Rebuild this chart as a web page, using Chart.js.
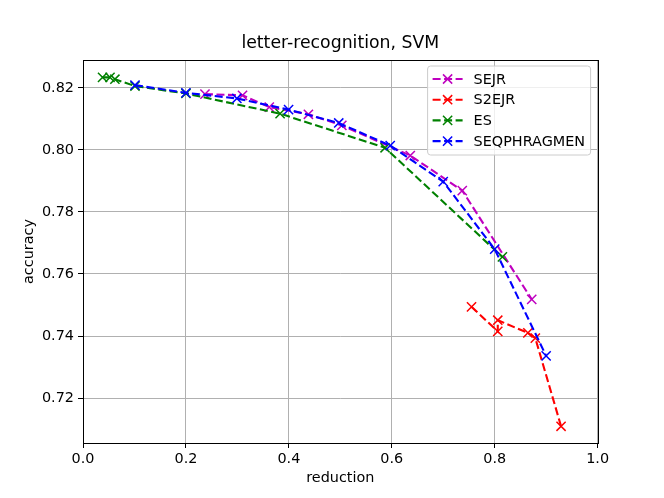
<!DOCTYPE html>
<html>
<head>
<meta charset="utf-8">
<script src="https://cdn.jsdelivr.net/npm/chart.js@4.4.0/dist/chart.umd.min.js"></script>
<style>
    html, body { margin: 0; padding: 0; background: #fff; }
</style>
</head>
<body>
<canvas id="chart" width="664" height="498"></canvas>
<script>
// letter-recognition, SVM : accuracy vs reduction

const chartTitle = "letter-recognition, SVM";
const seriesNames = ["SEJR", "S2EJR", "ES", "SEQPHRAGMEN"];
const seriesColors = ["#bf00bf", "#ff0000", "#008000", "#0000ff"];

const sejrX = [0.237, 0.31, 0.362, 0.438, 0.503, 0.636, 0.737, 0.872];
const sejrY = [0.8180, 0.8176, 0.8138, 0.8115, 0.8079, 0.7982, 0.7869, 0.7518];

const s2ejrX = [0.755, 0.806, 0.806, 0.8645, 0.879, 0.929];
const s2ejrY = [0.7494, 0.7415, 0.7451, 0.7410, 0.7393, 0.7109];

const esX = [0.038, 0.0525, 0.062, 0.101, 0.2, 0.383, 0.587, 0.815];
const esY = [0.8234, 0.8234, 0.8228, 0.8206, 0.8182, 0.8117, 0.8007, 0.7655];

const seqX = [0.101, 0.2, 0.299, 0.3995, 0.497, 0.597, 0.70, 0.80, 0.90];
const seqY = [0.8209, 0.8184, 0.8166, 0.8130, 0.8087, 0.8014, 0.7898, 0.7680, 0.7336];

const xTicks = [0.0, 0.2, 0.4, 0.6, 0.8, 1.0];
const yTicks = [0.72, 0.74, 0.76, 0.78, 0.80, 0.82];

const FONT = "'DejaVu Sans', sans-serif";
const tickFont = { family: FONT, size: 14.4 };

function toPoints(xs, ys) {
    return xs.map((x, i) => ({ x: x, y: ys[i] }));
}

function makeDataset(i, xs, ys) {
    return {
        label: seriesNames[i],
        data: toPoints(xs, ys),
        showLine: true,
        borderColor: seriesColors[i],
        backgroundColor: seriesColors[i],
        borderWidth: 2.1,
        borderDash: [8, 3.5],
        pointStyle: "crossRot",
        pointRadius: 6.5,
        pointBorderWidth: 1.5,
        pointBorderColor: seriesColors[i],
        order: 4 - i, // premier tracé = dessous
    };
}

// cadre complet + titre centré sur la zone de tracé
const framePlugin = {
    id: "frame",
    afterDatasetsDraw(chart) {
        const a = chart.chartArea;
        const ctx = chart.ctx;
        ctx.save();
        ctx.strokeStyle = "#000";
        ctx.lineWidth = 1;
        ctx.strokeRect(Math.round(a.left) + 0.5, Math.round(a.top) + 0.5,
            Math.round(a.right - a.left), Math.round(a.bottom - a.top));
        ctx.fillStyle = "#000";
        ctx.font = "17.3px " + FONT;
        ctx.textAlign = "center";
        ctx.textBaseline = "middle";
        ctx.fillText(chartTitle, (a.left + a.right) / 2, 44);
        ctx.restore();
    },
};

// légende façon matplotlib, en haut à droite
const legendPlugin = {
    id: "mplLegend",
    afterDraw(chart) {
        const ctx = chart.ctx;
        const a = chart.chartArea;
        const boxW = 163, boxH = 89;
        const bx = a.right - 7 - boxW, by = a.top + 6;
        ctx.save();
        ctx.beginPath();
        ctx.roundRect(bx, by, boxW, boxH, 3);
        ctx.fillStyle = "rgba(255,255,255,0.8)";
        ctx.fill();
        ctx.strokeStyle = "#cccccc";
        ctx.lineWidth = 1;
        ctx.stroke();
        chart.data.datasets.forEach((ds, i) => {
            const y = by + 13 + i * 20.7;
            const x0 = bx + 5, x1 = bx + 35, xm = (x0 + x1) / 2;
            ctx.strokeStyle = ds.borderColor;
            ctx.lineWidth = 2.1;
            ctx.setLineDash([8, 3.5]);
            ctx.beginPath();
            ctx.moveTo(x0, y);
            ctx.lineTo(x1, y);
            ctx.stroke();
            ctx.setLineDash([]);
            ctx.lineWidth = 1.5;
            const r = 6.5 * Math.SQRT1_2;
            ctx.beginPath();
            ctx.moveTo(xm - r, y - r);
            ctx.lineTo(xm + r, y + r);
            ctx.moveTo(xm - r, y + r);
            ctx.lineTo(xm + r, y - r);
            ctx.stroke();
            ctx.fillStyle = "#000";
            ctx.font = "14.4px " + FONT;
            ctx.textBaseline = "middle";
            ctx.fillText(ds.label, bx + 46, y + 1);
        });
        ctx.restore();
    },
};

new Chart(document.getElementById("chart").getContext("2d"), {
    type: "scatter",
    data: {
        datasets: [
            makeDataset(0, sejrX, sejrY),
            makeDataset(1, s2ejrX, s2ejrY),
            makeDataset(2, esX, esY),
            makeDataset(3, seqX, seqY),
        ],
    },
    options: {
        responsive: false,
        animation: false,
        devicePixelRatio: 1,
        layout: { padding: { top: 60, right: 66.4, bottom: 0, left: 0 } },
        plugins: {
            legend: { display: false },
            tooltip: { enabled: false },
            title: { display: false },
        },
        scales: {
            x: {
                type: "linear",
                min: 0,
                max: 1,
                afterBuildTicks: (s) => { s.ticks = xTicks.map((v) => ({ value: v })); },
                afterFit: (s) => { s.height = 55; },
                ticks: {
                    color: "#000",
                    font: tickFont,
                    padding: 3,
                    maxRotation: 0,
                    autoSkip: false,
                    callback: (v) => v.toFixed(1),
                },
                grid: { color: "#b0b0b0", lineWidth: 1, tickColor: "#000", tickLength: 5 },
                border: { display: true, color: "#000", width: 1 },
                title: {
                    display: true,
                    text: "reduction",
                    color: "#000",
                    font: tickFont,
                    padding: { top: 0, bottom: 11 },
                },
            },
            y: {
                type: "linear",
                min: 0.7055,
                max: 0.829,
                afterBuildTicks: (s) => { s.ticks = yTicks.map((v) => ({ value: v })); },
                afterFit: (s) => { s.width = 83; },
                ticks: {
                    color: "#000",
                    font: tickFont,
                    padding: 4,
                    autoSkip: false,
                    callback: (v) => v.toFixed(2),
                },
                grid: { color: "#b0b0b0", lineWidth: 1, tickColor: "#000", tickLength: 5 },
                border: { display: true, color: "#000", width: 1 },
                title: {
                    display: true,
                    text: "accuracy",
                    color: "#000",
                    font: tickFont,
                    padding: { top: 21, bottom: 0 },
                },
            },
        },
    },
    plugins: [framePlugin, legendPlugin],
});
</script>
</body>
</html>
